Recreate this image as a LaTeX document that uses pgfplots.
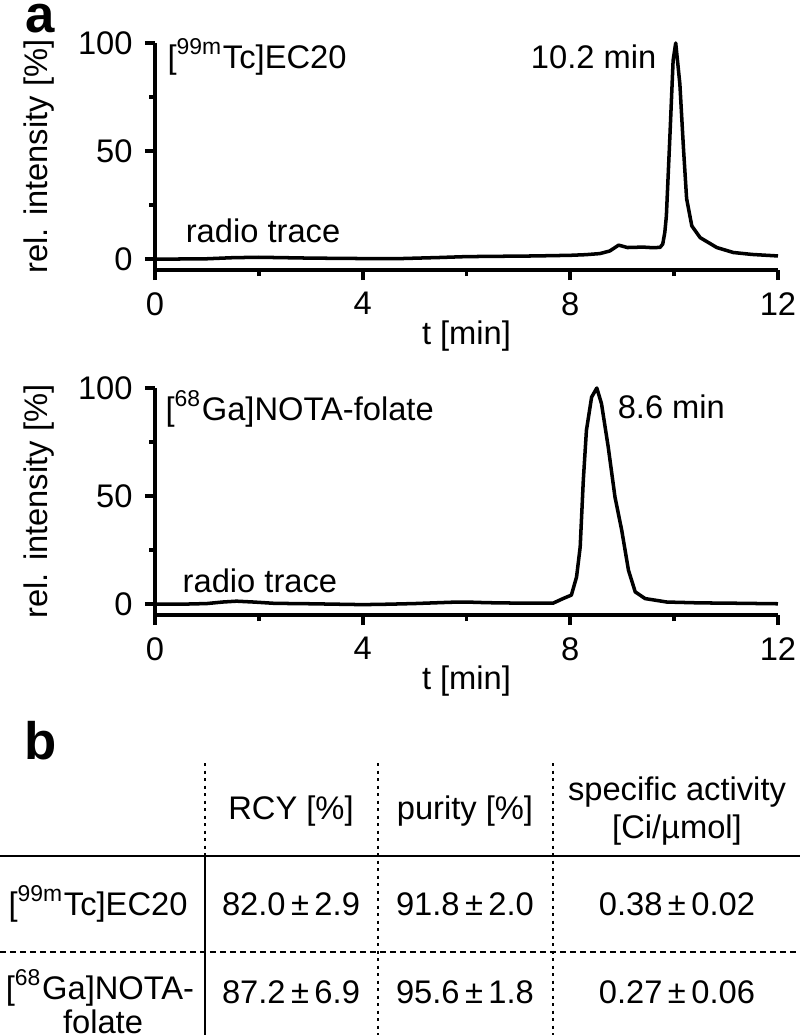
\documentclass[border=0pt]{standalone}
\usepackage{fontspec}
\setmainfont{Liberation Sans}
\setsansfont{Liberation Sans}
\usepackage{pgfplots}
\pgfplotsset{compat=1.18}

% shared look of the two radio-HPLC panels
\pgfplotsset{chrom/.style={
    scale only axis, width=6.23cm, height=2.27cm, anchor=south west,
    xmin=0, xmax=12, ymin=-5, ymax=100,
    axis x line=bottom, axis y line=left,
    axis line style={-, line width=1.2pt},
    xtick={0,4,8,12}, ytick={0,50,100}, minor tick num=1,
    tick align=outside, major tick length=0.1cm, minor tick length=0.06cm,
    every tick/.style={black, line width=1.1pt},
    /pgf/number format/assume math mode=true,
    ticklabel style={font=\fontsize{9.3}{11}\selectfont},
    label style={font=\fontsize{9.3}{11}\selectfont},
    xlabel={t [min]}, ylabel={rel. intensity [\%]},
    xlabel style={yshift=0.19cm},
    clip=false,
}}

\begin{document}
\begin{tikzpicture}[font=\fontsize{9.3}{11}\selectfont]
\path[use as bounding box] (0,0) rectangle (8,-10.35);
\clip (0,0) rectangle (8,-10.35);

\node[font=\fontsize{15}{15}\bfseries\selectfont, anchor=base, inner sep=0pt] at (0.40,-0.32) {a};

% [99mTc]EC20
\begin{axis}[chrom, at={(1.55cm,-2.70cm)}]
\addplot[black, line width=1pt, line join=round] coordinates {
 (0,0) (0.5,0.1) (1.0,0.2) (1.5,0.7) (2.0,0.9) (2.5,0.7) (3.0,0.5) (3.5,0.4)
 (4.0,0.3) (4.75,0.3) (5.5,0.8) (6.0,1.2) (7.3,1.5) (8.0,1.8) (8.3,2.1)
 (8.57,2.6) (8.76,3.8) (8.93,6.5) (9.1,5.4) (9.4,5.6) (9.6,5.3) (9.73,5.5)
 (9.78,7) (9.82,12.4) (9.85,20) (9.92,58) (9.98,92) (10.03,100) (10.11,81)
 (10.18,51) (10.24,28) (10.34,15.4) (10.5,10) (10.82,5.4) (11.14,3.1)
 (11.5,2.2) (12,1.5)
};
\node[anchor=base west, inner sep=0pt] at (axis cs:0.23,88.4) {[\textsuperscript{99m}Tc]EC20};
\node[anchor=base east, inner sep=0pt] at (axis cs:9.67,88.4) {10.2 min};
\node[anchor=base west, inner sep=0pt] at (axis cs:0.58,7.5) {radio trace};
\end{axis}

% [68Ga]NOTA-folate
\begin{axis}[chrom, at={(1.55cm,-6.15cm)}]
\addplot[black, line width=1pt, line join=round] coordinates {
 (0,0) (0.5,0) (1.0,0.3) (1.3,1.0) (1.57,1.4) (1.9,1.0) (2.3,0.4) (3,0.2)
 (3.5,0) (4,-0.2) (4.5,0) (5,0.3) (5.7,0.9) (6.0,1.0) (6.4,0.7) (7,0.5)
 (7.67,0.5) (7.86,2.6) (8.02,4.2) (8.12,12.6) (8.19,26.5) (8.25,57.3)
 (8.31,80.4) (8.41,95.8) (8.51,100) (8.60,92.8) (8.73,72.7) (8.86,49.6)
 (8.99,34.2) (9.12,15.7) (9.25,5.7) (9.44,2.6) (9.86,1.0) (10.5,0.6)
 (11,0.5) (12,0.2)
};
\node[anchor=base west, inner sep=0pt] at (axis cs:0.19,85.2) {[\textsuperscript{68}Ga]NOTA-folate};
\node[anchor=base west, inner sep=0pt] at (axis cs:8.9,86.1) {8.6 min};
\node[anchor=base west, inner sep=0pt] at (axis cs:0.52,5.6) {radio trace};
\end{axis}

% b: table
\node[font=\fontsize{15}{15}\bfseries\selectfont] at (0.41,-7.41) {b};
\begin{scope}[line width=0.6pt]
\draw[dash pattern=on 0.3mm off 0.45mm] (2.05,-7.63) -- (2.05,-8.56);
\draw (2.05,-8.56) -- (2.05,-10.40);
\draw[dash pattern=on 0.3mm off 0.45mm] (3.78,-7.63) -- (3.78,-10.40);
\draw[dash pattern=on 0.3mm off 0.45mm] (5.53,-7.63) -- (5.53,-10.40);
\draw (0,-8.56) -- (8,-8.56);
\draw[dash pattern=on 0.6mm off 0.4mm] (0,-9.52) -- (8,-9.52);
\end{scope}
\node[anchor=base] at (2.91,-8.19) {RCY [\%]};
\node[anchor=base] at (4.65,-8.19) {purity [\%]};
\node[anchor=base] at (6.77,-8.00) {specific activity};
\node[anchor=base] at (6.77,-8.38) {[Ci/µmol]};
\node[anchor=base] at (0.98,-9.15) {[\textsuperscript{99m}Tc]EC20};
\node[anchor=base] at (2.91,-9.15) {82.0\,±\,2.9};
\node[anchor=base] at (4.65,-9.15) {91.8\,±\,2.0};
\node[anchor=base] at (6.77,-9.15) {0.38\,±\,0.02};
\node[anchor=base] at (1.00,-9.99) {[\textsuperscript{68}Ga]NOTA-};
\node[anchor=base] at (1.03,-10.33) {folate};
\node[anchor=base] at (2.91,-10.03) {87.2\,±\,6.9};
\node[anchor=base] at (4.65,-10.03) {95.6\,±\,1.8};
\node[anchor=base] at (6.77,-10.03) {0.27\,±\,0.06};
\end{tikzpicture}
\end{document}
